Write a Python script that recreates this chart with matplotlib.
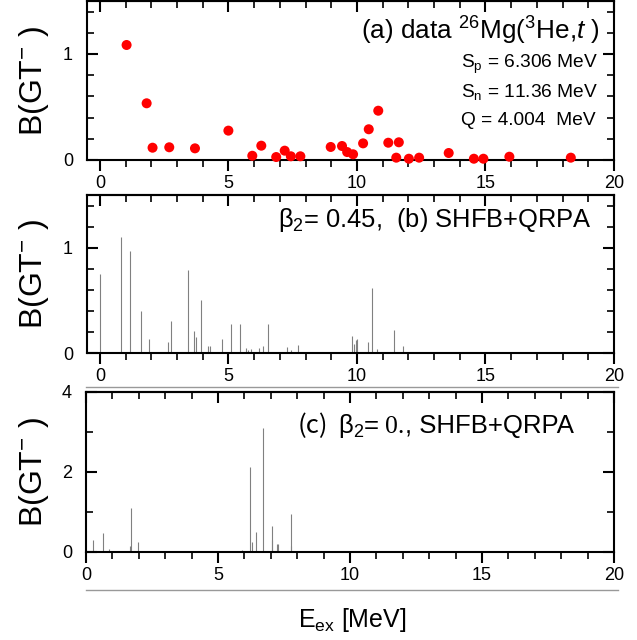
import matplotlib
matplotlib.use('Agg')
import matplotlib.pyplot as plt
from matplotlib.ticker import MultipleLocator
from matplotlib.lines import Line2D

plt.rcParams['font.family'] = ['Liberation Sans', 'DejaVu Sans']
plt.rcParams['mathtext.fontset'] = 'custom'
plt.rcParams['mathtext.rm'] = 'Liberation Sans'
plt.rcParams['mathtext.it'] = 'Liberation Sans:italic'
plt.rcParams['mathtext.bf'] = 'Liberation Sans:bold'

# ---------------- data ----------------
# (a) experimental 26Mg(3He,t)
exp_energy = [1.04, 1.82, 2.05, 2.70, 3.70, 5.00, 5.93, 6.28, 6.86, 7.19, 7.43, 7.80,
              8.98, 9.42, 9.62, 9.85, 10.24, 10.46, 10.83, 11.22, 11.53, 11.63, 12.02,
              12.42, 13.57, 14.55, 14.92, 15.93, 18.32]
exp_bgt = [1.085, 0.535, 0.116, 0.120, 0.110, 0.277, 0.040, 0.135, 0.028, 0.088, 0.035,
           0.035, 0.123, 0.132, 0.075, 0.054, 0.157, 0.290, 0.465, 0.163, 0.022, 0.167,
           0.012, 0.022, 0.066, 0.012, 0.012, 0.031, 0.022]

# (b) SHFB+QRPA, beta2 = 0.45
def_energy = [0.00, 0.83, 1.19, 1.59, 1.91, 2.65, 2.77, 3.41, 3.68, 3.75, 3.95, 4.20,
              4.28, 4.77, 5.10, 5.47, 5.67, 5.78, 5.87, 6.18, 6.34, 6.53, 7.17, 7.29,
              7.43, 7.69, 9.81, 9.88, 9.95, 10.00, 10.43, 10.60, 10.79, 11.43, 11.78]
def_bgt = [0.75, 1.10, 0.97, 0.40, 0.13, 0.10, 0.30, 0.79, 0.21, 0.15, 0.50, 0.07,
           0.07, 0.13, 0.28, 0.28, 0.05, 0.03, 0.04, 0.05, 0.07, 0.28, 0.01, 0.06,
           0.03, 0.08, 0.16, 0.09, 0.12, 0.13, 0.10, 0.62, 0.04, 0.22, 0.07]

# (c) SHFB+QRPA, beta2 = 0
sph_energy = [0.25, 0.63, 0.87, 1.67, 1.69, 1.96, 5.67, 5.90, 6.20, 6.29, 6.43, 6.72,
              7.03, 7.06, 7.22, 7.26, 7.75, 7.77, 11.58, 14.48]
sph_bgt = [0.29, 0.48, 0.08, 0.15, 1.11, 0.25, 0.03, 0.04, 2.13, 0.26, 0.49, 3.11,
           0.66, 0.29, 0.21, 0.20, 0.15, 0.94, 0.02, 0.02]

x_ticks = [0, 5, 10, 15, 20]
y_ticks_ab = [0, 1]
y_ticks_c = [0, 2, 4]

# ---------------- figure ----------------
W, H = 637, 640
fig = plt.figure(figsize=(W / 100, H / 100), dpi=100)


def px_axes(l, t, r, b):
    return fig.add_axes([l / W, 1 - b / H, (r - l) / W, (b - t) / H])


def style(ax, xlim, ylim, yticks, yminor):
    ax.set_xlim(xlim)
    ax.set_ylim(ylim)
    ax.set_xticks(x_ticks)
    ax.xaxis.set_minor_locator(MultipleLocator(1))
    ax.set_yticks(yticks)
    ax.yaxis.set_minor_locator(MultipleLocator(yminor))
    for s in ax.spines.values():
        s.set_linewidth(1.5)
    ax.tick_params(axis='x', which='both', direction='out', bottom=True, top=False,
                   labelsize=13, pad=3, colors='black')
    ax.tick_params(axis='x', which='major', length=8, width=1.5)
    ax.tick_params(axis='x', which='minor', length=5, width=1.2)
    ax.tick_params(axis='y', which='both', direction='in', left=True, right=True,
                   labelsize=13, pad=10)
    ax.tick_params(axis='y', which='major', length=8, width=1.5)
    ax.tick_params(axis='y', which='minor', length=5, width=1.2)
    sec = ax.secondary_xaxis('top')
    sec.set_xticks(x_ticks)
    sec.xaxis.set_minor_locator(MultipleLocator(1))
    sec.tick_params(which='both', direction='in', labeltop=False)
    sec.tick_params(which='major', length=8, width=1.5)
    sec.tick_params(which='minor', length=5, width=1.2)
    sec.spines['top'].set_linewidth(1.5)


axa = px_axes(87, 1, 614, 160)
axb = px_axes(87, 195, 614, 353)
axc = px_axes(86, 392, 614, 552)

# (a)
style(axa, (-0.5, 20), (0, 1.5), y_ticks_ab, 0.2)
axa.scatter(exp_energy, exp_bgt, s=52, color='#ff0000', edgecolors='none', zorder=3,
            clip_on=False)
axa.text(0.973, 0.755, '(a) data $^{26}$Mg($^{3}$He,$t$ )', transform=axa.transAxes,
         fontsize=18.8, ha='right', va='baseline')
axa.text(0.7097, 0.579, 'S$_{\\rm p}$ = 6.306 MeV', transform=axa.transAxes,
         fontsize=13.8, ha='left', va='baseline')
axa.text(0.7097, 0.398, 'S$_{\\rm n}$ = 11.36 MeV', transform=axa.transAxes,
         fontsize=13.8, ha='left', va='baseline')
axa.text(0.7097, 0.220, 'Q = 4.004  MeV', transform=axa.transAxes,
         fontsize=13.8, ha='left', va='baseline')

# (b)
style(axb, (-0.5, 20), (0, 1.5), y_ticks_ab, 0.2)
axb.vlines(def_energy, 0, def_bgt, color='#808080', linewidth=0.8)
axb.text(0.958, 0.797, 'β$_2$= 0.45,  (b) SHFB+QRPA', transform=axb.transAxes,
         fontsize=18.4, ha='right', va='baseline')

# (c)
style(axc, (0, 20), (0, 4), y_ticks_c, 1)
axc.vlines(sph_energy, 0, sph_bgt, color='#808080', linewidth=0.8)
yb = 0.744
t1 = axc.text(0.4015, yb, '(c)', transform=axc.transAxes, fontsize=18.5,
              family=['Noto Sans CJK JP', 'DejaVu Sans'], va='baseline', ha='left')
t2 = axc.annotate('β$_2$=', xy=(1, yb), xycoords=(t1, axc.transAxes),
                  xytext=(7, 0), textcoords='offset points', fontsize=18.5,
                  va='baseline', ha='left')
t3 = axc.annotate('0.', xy=(1, yb), xycoords=(t2, axc.transAxes),
                  xytext=(4, 0), textcoords='offset points', fontsize=18.5,
                  family=['Liberation Serif'], va='baseline', ha='left')
t4 = axc.annotate(', SHFB+QRPA', xy=(1, yb), xycoords=(t3, axc.transAxes),
                  xytext=(0, 0), textcoords='offset points', fontsize=18.5,
                  va='baseline', ha='left')

# y labels
for ax, lx in ((axa, -0.068), (axb, -0.068), (axc, -0.066)):
    ax.set_ylabel('B(GT$^{-}$ )', fontsize=23)
    ax.yaxis.set_label_coords(lx, 0.5)

# x label
fig.text(352 / W, 1 - 627 / H, 'E$_{\\rm ex}$ [MeV]', fontsize=18, ha='center',
         va='baseline')

# thin grey separator lines
for yy in (387, 590):
    fig.add_artist(Line2D([86 / W, 618 / W], [1 - yy / H, 1 - yy / H],
                          color='#999999', linewidth=1.0))

fig.savefig('out.png', dpi=100)
